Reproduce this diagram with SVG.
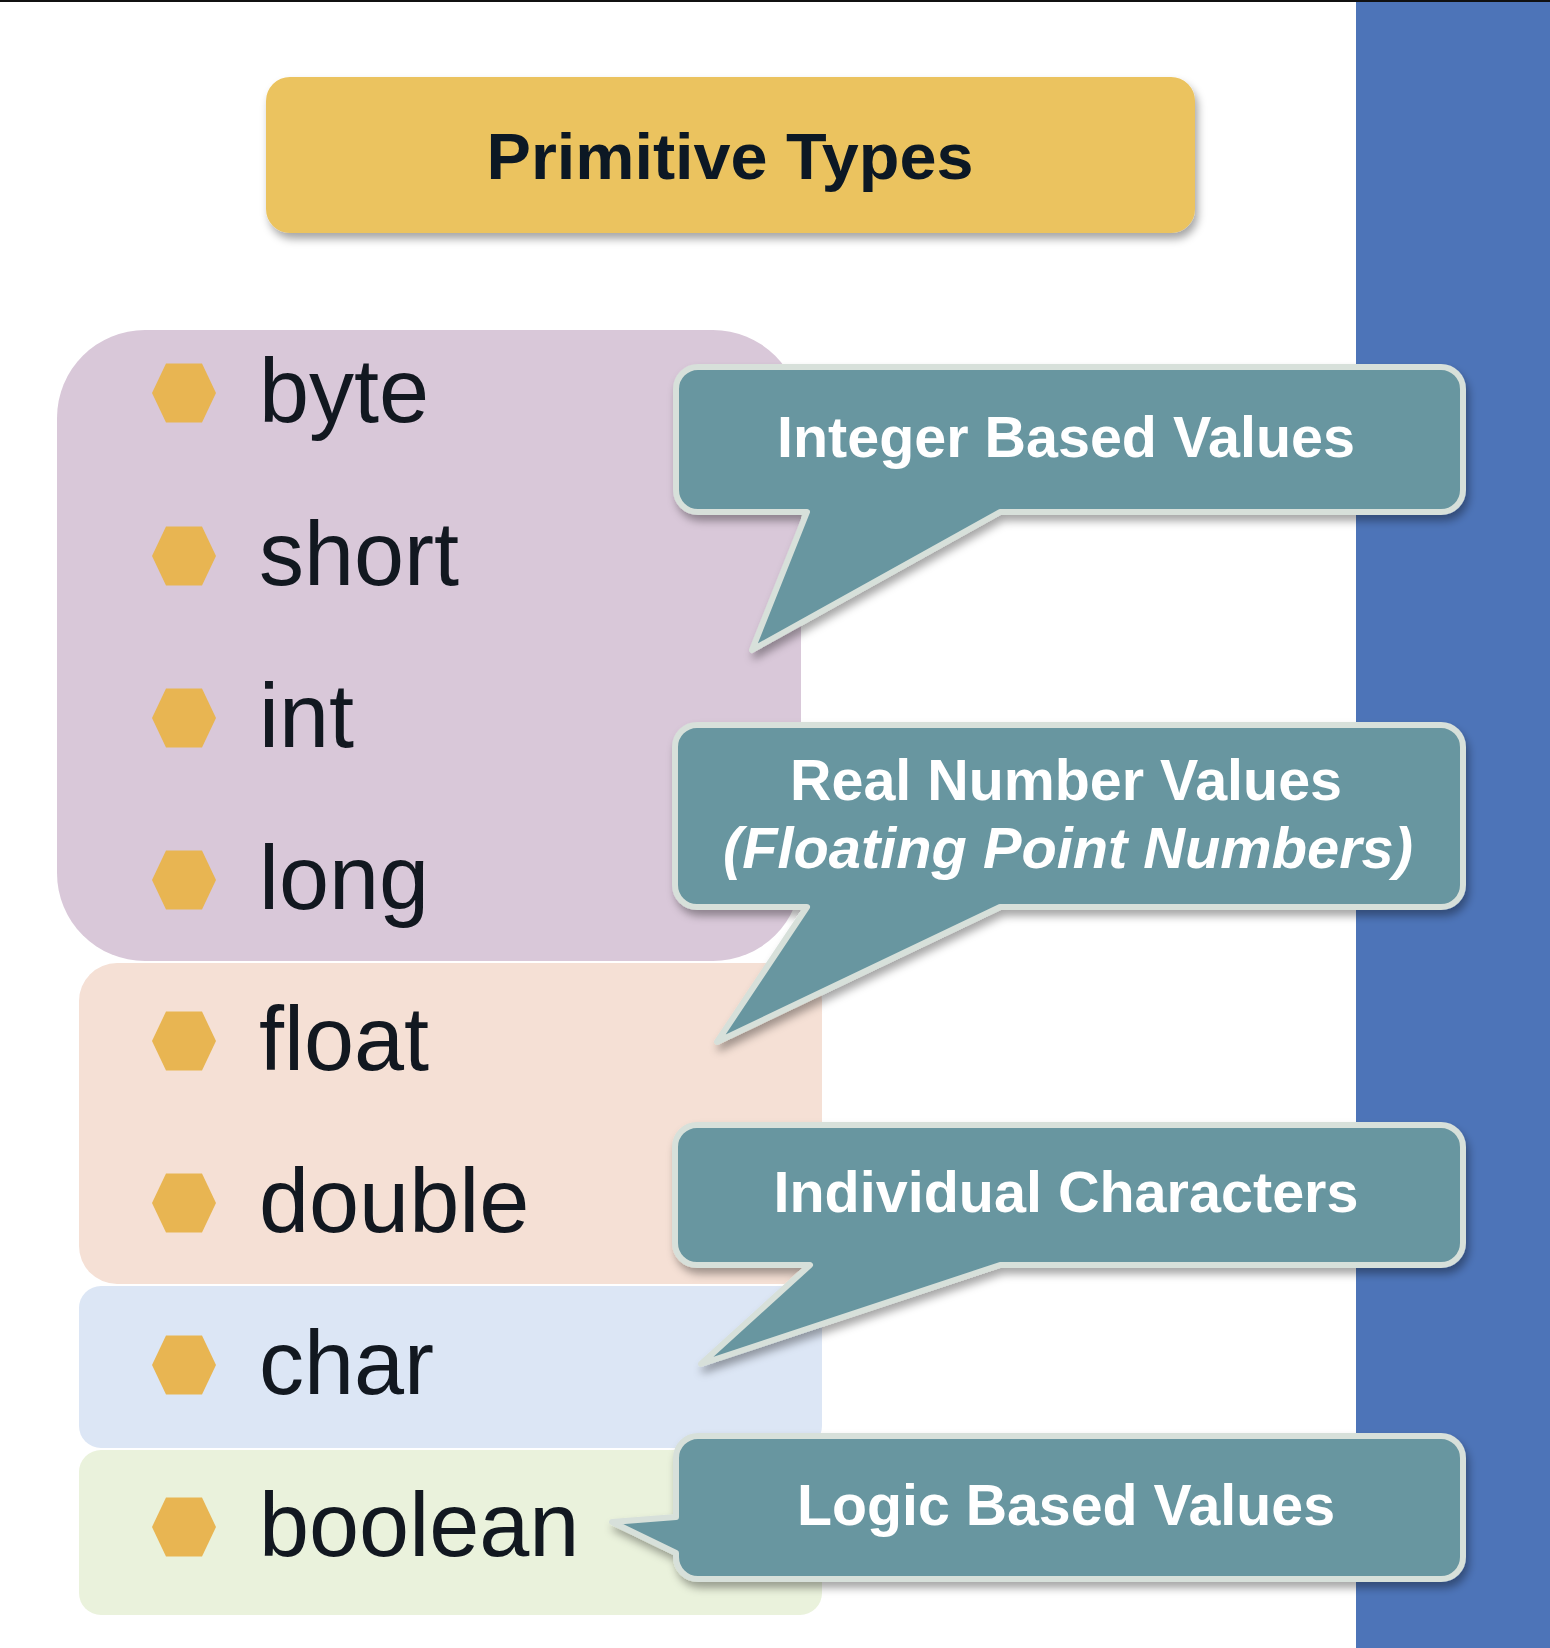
<svg xmlns="http://www.w3.org/2000/svg" width="1550" height="1648" viewBox="0 0 1550 1648">
<defs>
<style>
.item{font-family:"Liberation Sans",Arial,Helvetica,sans-serif;font-size:90px;fill:#121820}
.title{font-family:"Liberation Sans",Arial,Helvetica,sans-serif;font-size:64px;font-weight:bold;fill:#0c1824}
.ct{font-family:"Liberation Sans",Arial,Helvetica,sans-serif;font-size:57px;font-weight:bold;fill:#ffffff;text-anchor:middle}
.callout{fill:#6896a0;stroke:#d7e0da;stroke-width:6;stroke-linejoin:round}
.bullet{fill:#e8b552}
</style>
<filter id="sh" x="-10%" y="-20%" width="125%" height="150%">
<feDropShadow dx="3" dy="6" stdDeviation="4" flood-color="#000" flood-opacity="0.35"/>
</filter>
<polygon id="hex" points="-32,0 -18,-29.5 18,-29.5 32,0 18,29.5 -18,29.5"/>
</defs>
<rect x="0" y="0" width="1550" height="1648" fill="#ffffff"/>
<rect x="0" y="0" width="1550" height="2" fill="#111111"/>
<rect x="1356" y="2" width="194" height="1646" fill="#4d74b8"/>

<g id="title">
<rect x="266" y="77" width="929" height="156" rx="24" fill="#ebc35e" filter="url(#sh)"/>
<text class="title" x="730" y="179" text-anchor="middle" textLength="487" lengthAdjust="spacingAndGlyphs">Primitive Types</text>
</g>

<g id="group-integer">
<rect x="57" y="330" width="744" height="631" rx="88" fill="#d9c8d9"/>
</g>
<g id="group-real">
<rect x="79" y="963" width="743" height="321" rx="38" fill="#f5e0d5"/>
</g>
<g id="group-char">
<rect x="79" y="1286" width="743" height="162" rx="22" fill="#dce6f5"/>
</g>
<g id="group-bool">
<rect x="79" y="1450" width="743" height="165" rx="22" fill="#eaf2dc"/>
</g>

<g id="item-byte"><use href="#hex" class="bullet" x="184" y="393"/><text class="item" x="259" y="422">byte</text></g>
<g id="item-short"><use href="#hex" class="bullet" x="184" y="556"/><text class="item" x="259" y="585">short</text></g>
<g id="item-int"><use href="#hex" class="bullet" x="184" y="718"/><text class="item" x="259" y="747">int</text></g>
<g id="item-long"><use href="#hex" class="bullet" x="184" y="880"/><text class="item" x="259" y="909">long</text></g>
<g id="item-float"><use href="#hex" class="bullet" x="184" y="1041"/><text class="item" x="259" y="1070">float</text></g>
<g id="item-double"><use href="#hex" class="bullet" x="184" y="1203"/><text class="item" x="259" y="1232">double</text></g>
<g id="item-char"><use href="#hex" class="bullet" x="184" y="1365"/><text class="item" x="259" y="1394">char</text></g>
<g id="item-boolean"><use href="#hex" class="bullet" x="184" y="1527"/><text class="item" x="259" y="1556">boolean</text></g>

<g id="connectors">
<g id="callout-integer">
<path class="callout" filter="url(#sh)" d="M698 367 H1441 A22 22 0 0 1 1463 389 V490 A22 22 0 0 1 1441 512 H1000 L752 650 L807 512 H698 A22 22 0 0 1 676 490 V389 A22 22 0 0 1 698 367 Z"/>
<text class="ct" x="1066" y="457" textLength="578" lengthAdjust="spacingAndGlyphs">Integer Based Values</text>
</g>
<g id="callout-real">
<path class="callout" filter="url(#sh)" d="M697 725 H1441 A22 22 0 0 1 1463 747 V885 A22 22 0 0 1 1441 907 H1000 L717 1042 L807 907 H697 A22 22 0 0 1 675 885 V747 A22 22 0 0 1 697 725 Z"/>
<text class="ct" x="1066" y="800" textLength="552" lengthAdjust="spacingAndGlyphs">Real Number Values</text>
<text class="ct" x="1068" y="868" font-style="italic" textLength="690" lengthAdjust="spacingAndGlyphs">(Floating Point Numbers)</text>
</g>
<g id="callout-char">
<path class="callout" filter="url(#sh)" d="M697 1125 H1441 A22 22 0 0 1 1463 1147 V1243 A22 22 0 0 1 1441 1265 H1000 L701 1364 L810 1265 H697 A22 22 0 0 1 675 1243 V1147 A22 22 0 0 1 697 1125 Z"/>
<text class="ct" x="1066" y="1212" textLength="585" lengthAdjust="spacingAndGlyphs">Individual Characters</text>
</g>
<g id="callout-bool">
<path class="callout" filter="url(#sh)" d="M698 1436 H1441 A22 22 0 0 1 1463 1458 V1557 A22 22 0 0 1 1441 1579 H698 A22 22 0 0 1 676 1557 V1553 L612 1522 L676 1517 V1458 A22 22 0 0 1 698 1436 Z"/>
<text class="ct" x="1066" y="1525" textLength="538" lengthAdjust="spacingAndGlyphs">Logic Based Values</text>
</g>
</g>
</svg>
